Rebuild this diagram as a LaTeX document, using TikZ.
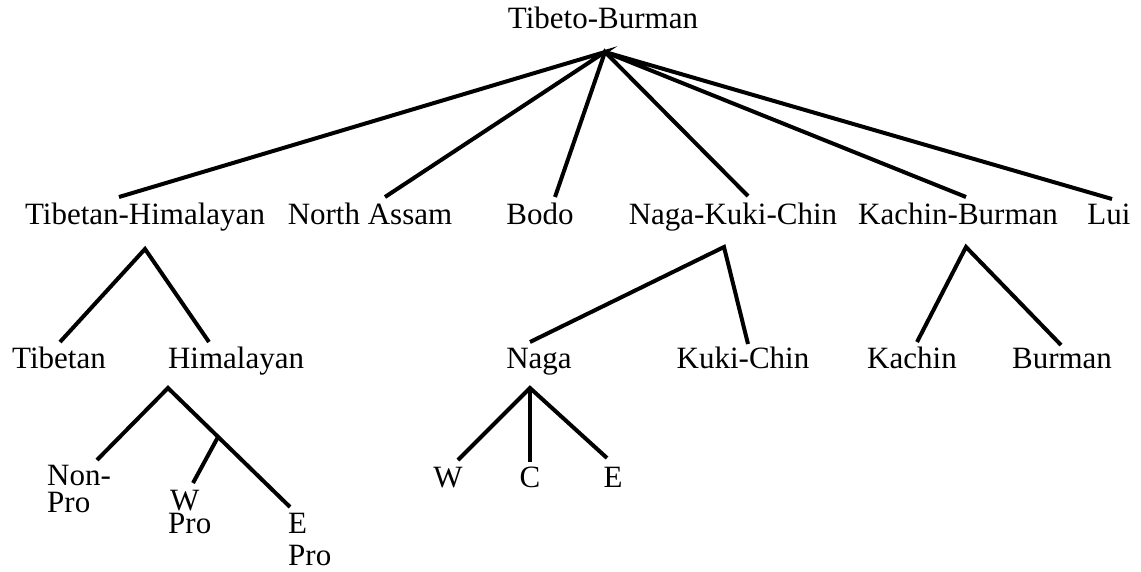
\documentclass[tikz,border=0pt]{standalone}
\usepackage{fontspec}
\setmainfont{Liberation Serif}
\begin{document}
\begin{tikzpicture}[x=1pt,y=-1pt,
  lbl/.style={inner sep=0pt,anchor=base,font=\fontsize{31}{28}\selectfont},
  lbll/.style={inner sep=0pt,anchor=base west,align=left,font=\fontsize{31}{28}\selectfont},
  edge/.style={line width=4pt}]
\useasboundingbox (0,0) rectangle (1141,571);
% labels
\node[lbl] (tb) at (603,28) {Tibeto-Burman};
\node[lbl] (th) at (145,224) {Tibetan-Himalayan};
\node[lbl] (na) at (370,224) {North Assam};
\node[lbl] (bo) at (540,224) {Bodo};
\node[lbl] (nkc) at (733,224) {Naga-Kuki-Chin};
\node[lbl] (kb) at (958,224) {Kachin-Burman};
\node[lbl] (lui) at (1109,224) {Lui};
\node[lbl] (tib) at (59,368) {Tibetan};
\node[lbl] (him) at (236,368) {Himalayan};
\node[lbl] (naga) at (539,368) {Naga};
\node[lbl] (kc) at (743,368) {Kuki-Chin};
\node[lbl] (kac) at (912,368) {Kachin};
\node[lbl] (bur) at (1062,368) {Burman};
\node[lbl] (w) at (448,487) {W};
\node[lbl] (c) at (530,487) {C};
\node[lbl] (e) at (613,487) {E};
\node[lbll] (np) at (47,512) {Non-\\[-1pt]Pro};
\node[lbll] (wp) at (168,533) {\hspace*{2pt}W\\[-5pt]Pro};
\node[lbll] (ep) at (288,565) {E\\[4pt]Pro};
% connector points
\coordinate (tbA) at (605,52);
\coordinate (thT) at (119,197);
\coordinate (naT) at (385,197);
\coordinate (boT) at (555,197);
\coordinate (nkcT) at (748,196);
\coordinate (kbT) at (966,197);
\coordinate (luiT) at (1112,199);
\coordinate (thA) at (145,249);
\coordinate (tibT) at (60,342);
\coordinate (himT) at (209,342);
\coordinate (nkcA) at (724,247);
\coordinate (nagaT) at (530,342);
\coordinate (kcT) at (748,344);
\coordinate (kbA) at (966,247);
\coordinate (kacT) at (917,342);
\coordinate (burT) at (1061,345);
\coordinate (nagaA) at (530,388);
\coordinate (wT) at (458,460);
\coordinate (cT) at (530,462);
\coordinate (eT) at (607,458);
\coordinate (himA) at (168,388);
\coordinate (npT) at (97,460);
\coordinate (epT) at (290,507);
\coordinate (br) at (218,437);
\coordinate (wpT) at (193,483);
% connectors
\draw[edge] (thT) -- (tbA) -- (naT);
\draw[edge] (boT) -- (tbA) -- (nkcT);
\draw[edge] (kbT) -- (tbA) -- (luiT);
\draw[edge] (tibT) -- (thA) -- (himT);
\draw[edge] (nagaT) -- (nkcA) -- (kcT);
\draw[edge] (kacT) -- (kbA) -- (burT);
\draw[edge] (wT) -- (nagaA) -- (eT);
\draw[edge] (nagaA) -- (cT);
\draw[edge] (npT) -- (himA) -- (epT);
\draw[edge] (br) -- (wpT);
\end{tikzpicture}
\end{document}
